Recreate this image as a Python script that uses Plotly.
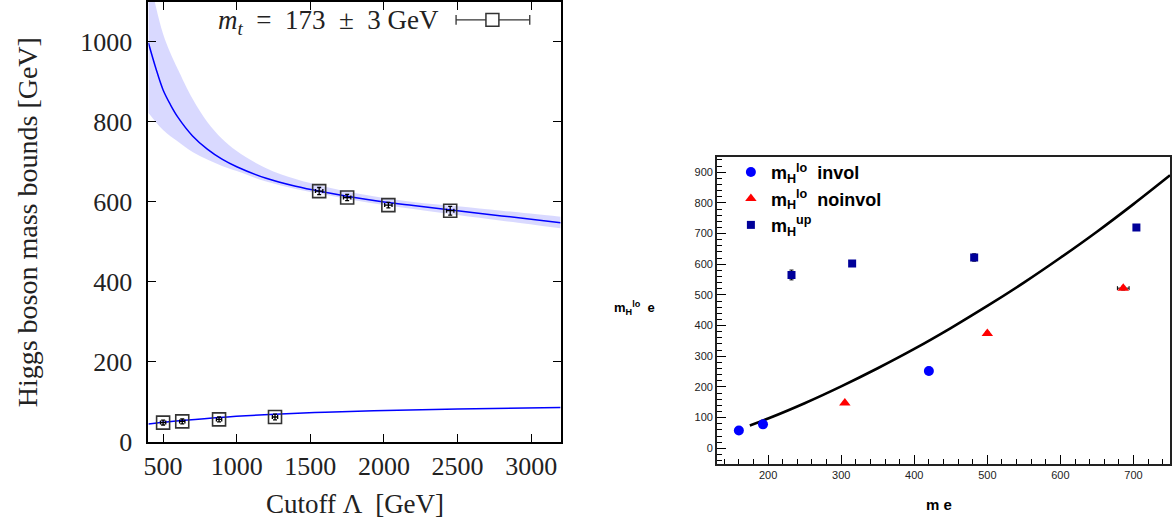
import plotly.graph_objects as go

# ---------------- Left panel data ----------------
lam_low_pts = [500, 630, 880, 1260]
mh_low_pts = [48, 51, 56, 62]
mh_low_err = [6, 6, 6, 7]
lam_low_err = [18, 18, 18, 18]

lam_up_pts = [1560, 1750, 2030, 2450]
mh_up_pts = [627, 611, 592, 578]
mh_up_err = [9, 8, 7, 11]
lam_up_err = [25, 25, 25, 25]

lam_fit = [400, 450, 500, 550, 600, 700, 800, 900, 1000, 1200, 1400, 1600, 1800, 2000, 2200, 2500, 2800, 3200]
fit_up_center = [998, 935, 880, 843, 812, 765, 732, 707, 688, 659, 639, 624, 611, 600, 591, 578, 565, 548]
fit_up_hi = [1180, 1090, 1020, 972, 932, 858, 800, 758, 727, 684, 657, 638, 622, 610, 600, 589, 578, 563]
fit_up_lo = [823, 800, 780, 764, 751, 725, 706, 690, 677, 651, 632, 618, 604, 592, 582, 567, 553, 534]

lam_fit_low = [400, 500, 630, 880, 1260, 1600, 1930, 2500, 3200]
fit_low = [44.6, 49, 53.5, 61, 69, 74, 77.7, 82, 86]

x_ticks_left = [500, 1000, 1500, 2000, 2500, 3000]
y_ticks_left = [0, 200, 400, 600, 800, 1000]

# ---------------- Right panel data ----------------
me_invol = [160, 193, 420]
mh_invol = [58, 78, 252]
mh_invol_err = [3, 3, 12]

me_noinvol = [305, 500, 686]
mh_noinvol = [148, 374, 522]
mh_noinvol_err = [2, 6, 6]
me_noinvol_err = [0, 0, 8]

me_up = [232, 315, 482, 704]
mh_up_r = [565, 602, 622, 720]
mh_up_r_err = [16, 8, 12, 4]

me_curve = [175, 200, 250, 300, 350, 400, 450, 500, 550, 600, 650, 700, 750]
mh_curve = [74, 97, 147, 202, 261, 324, 392, 464, 540, 621, 706, 796, 890]

x_ticks_right = [200, 300, 400, 500, 600, 700]
y_ticks_right = [0, 100, 200, 300, 400, 500, 600, 700, 800, 900]

fig = go.Figure()

band_color = "rgba(165,165,255,0.42)"
fig.add_trace(go.Scatter(x=lam_fit, y=fit_up_lo, mode="lines", line=dict(width=0, color=band_color, shape="spline"),
                         showlegend=False, xaxis="x", yaxis="y", hoverinfo="skip"))
fig.add_trace(go.Scatter(x=lam_fit, y=fit_up_hi, mode="lines", line=dict(width=0, color=band_color, shape="spline"),
                         fill="tonexty", fillcolor=band_color, showlegend=False, xaxis="x", yaxis="y",
                         hoverinfo="skip"))
fig.add_trace(go.Scatter(x=lam_fit, y=fit_up_center, mode="lines", line=dict(color="#0000ff", width=1.5, shape="spline"),
                         showlegend=False, xaxis="x", yaxis="y"))
fig.add_trace(go.Scatter(x=lam_fit_low, y=fit_low, mode="lines", line=dict(color="#0000ff", width=1.5, shape="spline"),
                         showlegend=False, xaxis="x", yaxis="y"))

sq_marker = dict(symbol="square-open", size=13, color="#333333", line=dict(width=1.6, color="#333333"))
for xs, ys, ey, ex in [(lam_low_pts, mh_low_pts, mh_low_err, lam_low_err),
                       (lam_up_pts, mh_up_pts, mh_up_err, lam_up_err)]:
    fig.add_trace(go.Scatter(x=xs, y=ys, mode="markers", marker=sq_marker,
                             error_y=dict(type="data", array=ey, color="black", thickness=1.3, width=2),
                             error_x=dict(type="data", array=ex, color="black", thickness=1.3, width=2),
                             showlegend=False, xaxis="x", yaxis="y"))

# right panel
fig.add_trace(go.Scatter(x=me_curve, y=mh_curve, mode="lines", line=dict(color="black", width=2.6, shape="spline"),
                         showlegend=False, xaxis="x2", yaxis="y2"))
fig.add_trace(go.Scatter(x=me_invol, y=mh_invol, mode="markers",
                         marker=dict(symbol="circle", size=10, color="#0000ff"),
                         error_y=dict(type="data", array=mh_invol_err, color="black", thickness=1, width=2),
                         name="<b>m<sub>H</sub><sup>lo</sup>  invol</b>", legend="legend2",
                         xaxis="x2", yaxis="y2"))
fig.add_trace(go.Scatter(x=me_noinvol, y=mh_noinvol, mode="markers",
                         marker=dict(symbol="triangle-up", size=10, color="#ff0000"),
                         error_y=dict(type="data", array=mh_noinvol_err, color="black", thickness=1, width=2),
                         error_x=dict(type="data", array=me_noinvol_err, color="black", thickness=1, width=2),
                         name="<b>m<sub>H</sub><sup>lo</sup>  noinvol</b>", legend="legend2",
                         xaxis="x2", yaxis="y2"))
fig.add_trace(go.Scatter(x=me_up, y=mh_up_r, mode="markers",
                         marker=dict(symbol="square", size=8, color="#000099"),
                         error_y=dict(type="data", array=mh_up_r_err, color="black", thickness=1, width=2),
                         name="<b>m<sub>H</sub><sup>up</sup></b>", legend="legend2",
                         xaxis="x2", yaxis="y2"))

W, H = 1173, 532
KY = 0.977  # observed vertical compression of the captured page
def px(x):
    return x / W
def py(y):
    yt = (y - 1) / KY
    return max(0.0, min(1.0, (H - yt) / H))

serif = "Liberation Serif"
sans = "Liberation Sans"

fig.update_layout(
    width=W, height=H,
    margin=dict(l=0, r=0, t=0, b=0),
    paper_bgcolor="white", plot_bgcolor="white",
    showlegend=True,
    xaxis=dict(domain=[px(144), px(558)], range=[400, 3200], tickvals=x_ticks_left,
               ticks="inside", ticklen=8, tickwidth=1.3, tickcolor="black", mirror="ticks",
               showline=True, linecolor="black", linewidth=2, showgrid=False, zeroline=False,
               tickfont=dict(family=serif, size=26, color="#222"), anchor="y"),
    yaxis=dict(domain=[py(445), py(2)], range=[0, 1100], tickvals=y_ticks_left,
               ticks="inside", ticklen=8, tickwidth=1.3, tickcolor="black", mirror="ticks",
               showline=True, linecolor="black", linewidth=2, showgrid=False, zeroline=False,
               ticklabelstandoff=9,
               tickfont=dict(family=serif, size=26, color="#222"), anchor="x"),
    xaxis2=dict(domain=[px(715), px(1170)], range=[130, 750],
                tickmode="linear", tick0=x_ticks_right[0], dtick=x_ticks_right[1] - x_ticks_right[0],
                ticks="inside", ticklen=9, tickwidth=1.2, tickcolor="black",
                minor=dict(ticks="inside", dtick=20, ticklen=5, tickcolor="black", tickwidth=1),
                showline=True, mirror=True, linecolor="#222", linewidth=1.6, showgrid=False, zeroline=False,
                tickfont=dict(family=sans, size=11, color="#222"), anchor="y2"),
    yaxis2=dict(domain=[py(467), py(158)], range=[-50, 950],
                tickmode="linear", tick0=y_ticks_right[0], dtick=y_ticks_right[1] - y_ticks_right[0],
                ticks="inside", ticklen=9, tickwidth=1.2, tickcolor="black",
                minor=dict(ticks="inside", dtick=20, ticklen=5, tickcolor="black", tickwidth=1),
                showline=True, mirror=True, linecolor="#222", linewidth=1.6, showgrid=False, zeroline=False,
                tickfont=dict(family=sans, size=11, color="#222"), anchor="x2"),
    legend2=dict(x=px(729), y=py(155), xanchor="left", yanchor="top", bgcolor="rgba(0,0,0,0)",
                 font=dict(family=sans, size=18, color="black"), tracegroupgap=0, itemwidth=30),
)

annotations = [
    dict(text="Higgs boson mass bounds [GeV]", x=px(22), y=py(224), xref="paper", yref="paper",
         xanchor="center", yanchor="middle",
         textangle=-90, showarrow=False, font=dict(family=serif, size=28, color="#222")),
    dict(text="Cutoff Λ  [GeV]", x=px(351), y=py(508), xref="paper", yref="paper",
         xanchor="center", yanchor="middle",
         showarrow=False, font=dict(family=serif, size=27, color="#222")),
    dict(text="<i>m</i><sub><i>t</i></sub>\u2002=\u2002173\u2002±\u20023 GeV", x=px(438), y=py(22),
         xref="paper", yref="paper",
         xanchor="right", yanchor="middle", showarrow=False, font=dict(family=serif, size=27, color="#222")),
    dict(text="<b>m<sub>H</sub><sup>lo</sup>  e</b>", x=px(632), y=py(310), xref="paper", yref="paper",
         xanchor="center", yanchor="middle",
         showarrow=False, font=dict(family=sans, size=13, color="black")),
    dict(text="<b>m e</b>", x=px(938), y=py(508), xref="paper", yref="paper",
         xanchor="center", yanchor="middle",
         showarrow=False, font=dict(family=sans, size=15, color="black")),
]
fig.update_layout(annotations=annotations)

# legend sample for left panel (line with end caps and open square)
ly = py(20)
shapes = [
    dict(type="line", xref="paper", yref="paper", x0=px(453), x1=px(527), y0=ly, y1=ly,
         line=dict(color="#333", width=1.3)),
    dict(type="line", xref="paper", yref="paper", x0=px(453), x1=px(453), y0=ly - 5 / H, y1=ly + 5 / H,
         line=dict(color="#333", width=1.3)),
    dict(type="line", xref="paper", yref="paper", x0=px(527), x1=px(527), y0=ly - 5 / H, y1=ly + 5 / H,
         line=dict(color="#333", width=1.3)),
    dict(type="rect", xref="paper", yref="paper", x0=px(483), x1=px(496), y0=ly - 6.5 / H, y1=ly + 6.5 / H,
         line=dict(color="#333", width=1.5), fillcolor="white"),
]
fig.update_layout(shapes=shapes)

fig.write_html("out.html", config={"displayModeBar": False},
               post_script="document.body.style.margin='0px';document.body.style.overflow='hidden';")
